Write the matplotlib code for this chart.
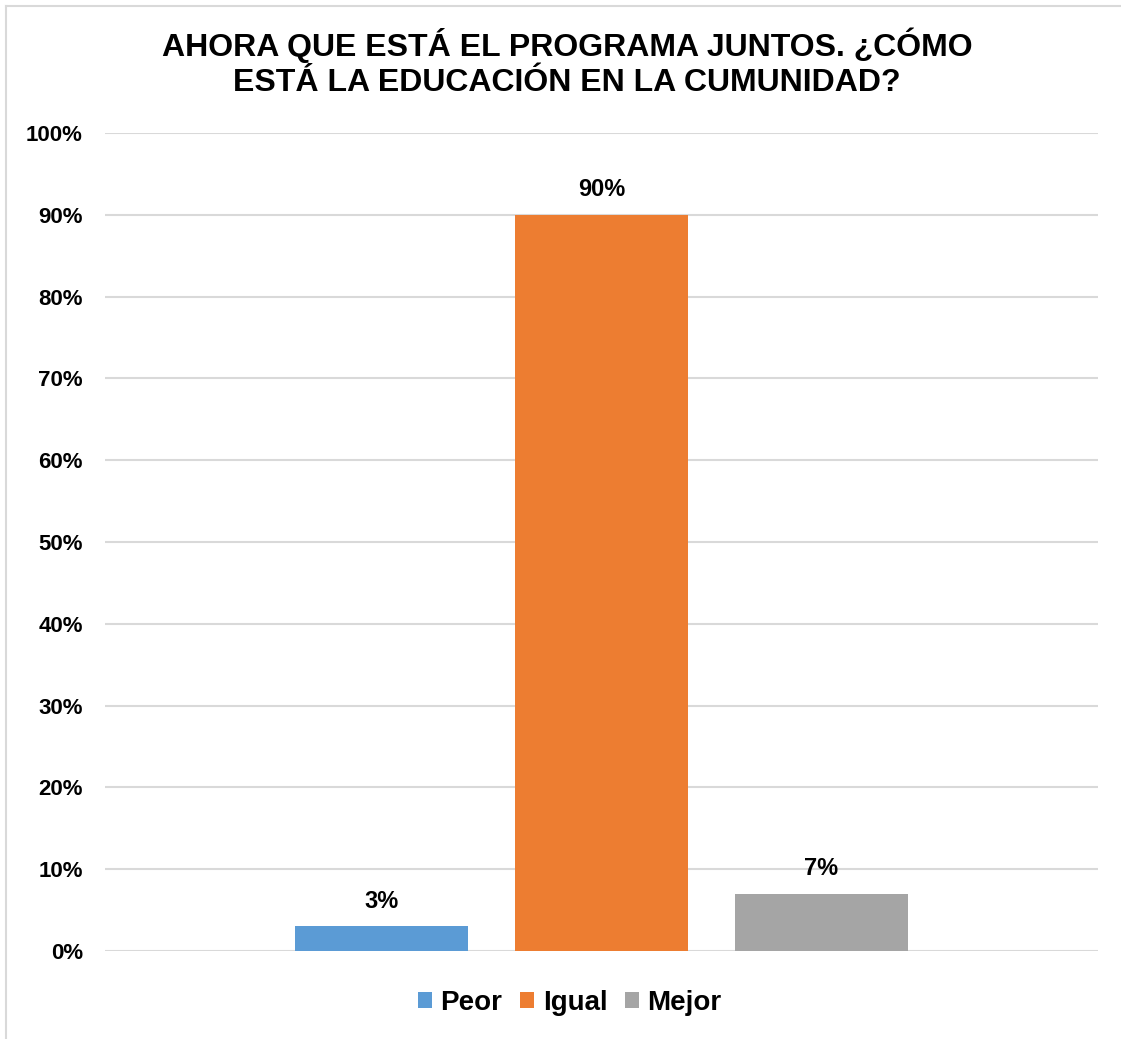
import matplotlib
matplotlib.use("Agg")
import matplotlib.pyplot as plt
from matplotlib.lines import Line2D
from matplotlib.patches import Patch

categories = ["Peor", "Igual", "Mejor"]
values = [3, 90, 7]
colors = ["#5B9BD5", "#ED7D31", "#A5A5A5"]
yticks = [0, 10, 20, 30, 40, 50, 60, 70, 80, 90, 100]
title = "AHORA QUE ESTÁ EL PROGRAMA JUNTOS. ¿CÓMO\nESTÁ LA EDUCACIÓN EN LA CUMUNIDAD?"

plt.rcParams['font.family'] = ['Liberation Sans', 'DejaVu Sans']
plt.rcParams['font.weight'] = 'bold'

W, H = 1121, 1039
fig = plt.figure(figsize=(W / 100, H / 100), dpi=100)
ax = fig.add_axes([105 / W, (H - 951) / H, 993 / W, 818 / H])

positions = [-1, 0, 1]
for p, v, c, lab in zip(positions, values, colors, categories):
    ax.bar(p, v, width=0.786, color=c, label=lab, zorder=3)
    ax.annotate(f"{v}%", xy=(p, v), xytext=(0, 10), textcoords="offset points",
                ha="center", va="bottom", fontsize=17, fontweight="bold", color="#000000")

ax.set_xlim(-2.257, 2.257)
ax.set_ylim(0, 100)
ax.set_yticks(yticks)
ax.set_yticklabels([f"{t}%" for t in yticks], fontsize=16, fontweight="bold")
ax.set_xticks([])
ax.tick_params(axis="y", length=0, pad=16)
ax.grid(axis="y", color="#D9D9D9", linewidth=1.5, zorder=0)
for s in ax.spines.values():
    s.set_visible(False)

fig.text(567 / W, 1 - 63 / H, title, ha="center", va="center", fontsize=23,
         fontweight="bold", linespacing=1.2)

handles = [Patch(facecolor=c, edgecolor="none") for c in colors]
leg = fig.legend(handles, categories, loc="center", bbox_to_anchor=(570 / W, 1 - 1003 / H),
                 ncol=3, frameon=False, fontsize=20, handlelength=0.5, handleheight=0.5,
                 handletextpad=0.3, columnspacing=0.65)
for t in leg.get_texts():
    t.set_fontweight("bold")

# outer border (left and top visible)
fig.add_artist(Line2D([5.5 / W, 5.5 / W], [0, 1 - 6 / H], transform=fig.transFigure,
                      color="#D9D9D9", linewidth=1.5))
fig.add_artist(Line2D([5.5 / W, 1], [1 - 6 / H, 1 - 6 / H], transform=fig.transFigure,
                      color="#D9D9D9", linewidth=1.5))

fig.savefig("out.png", dpi=100, facecolor="white")
